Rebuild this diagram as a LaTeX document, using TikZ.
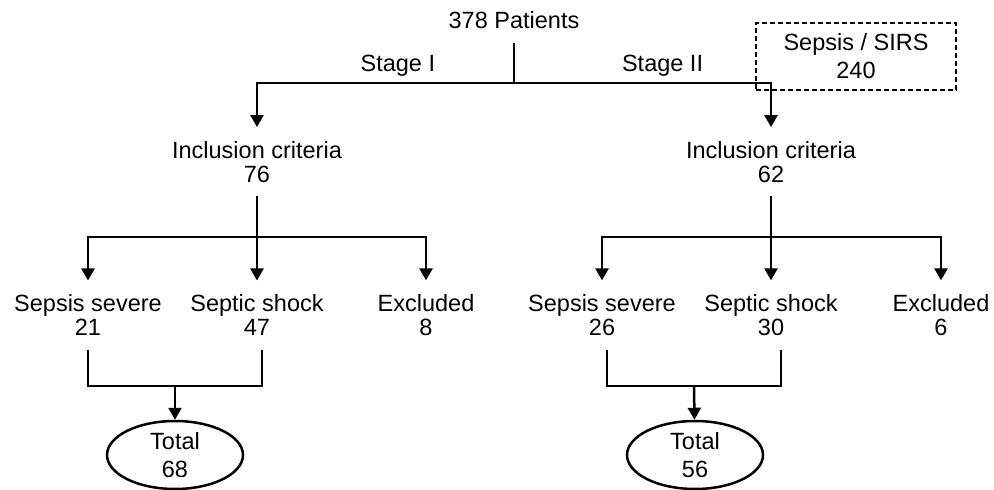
\documentclass[tikz,border=0pt]{standalone}
\usepackage{fontspec}
\setmainfont{Liberation Sans}
\usetikzlibrary{positioning, arrows.meta, shapes.geometric}
\tikzset{
>={Triangle[width=13pt,length=12pt]}, % filled arrow heads
node distance=169pt, % distance between the sub groups
txt/.style={align=center, inner sep=0pt, outer ysep=14pt}, % text nodes, lines stop short of them
total/.style={draw, ellipse, align=center, inner sep=0pt, minimum width=136pt, minimum height=68pt}, % the two totals
note/.style={draw, dash pattern=on 5pt off 3pt, line width=2.2pt, align=center, minimum width=200pt, minimum height=67pt},
}
\begin{document}
\begin{tikzpicture}[x=1pt, y=-1pt, line width=2.5pt, font=\fontsize{23.5}{24}\selectfont]
  \useasboundingbox (0,0) rectangle (994,490);

  % Nodes
  \node[txt] (pat) at (514,20) {378 Patients};
  \coordinate (split) at (514,83);
  \node[txt] (inc1) at (257,161.7) {Inclusion criteria\\76};
  \node[txt] (inc2) at (771,161.7) {Inclusion criteria\\62};

  \coordinate (b1) at (257,237);
  \coordinate (b2) at (771,237);
  \node[txt] (ss1) at (88,315) {Sepsis severe\\21};
  \node[txt, right of=ss1] (sh1) {Septic shock\\47};
  \node[txt, right of=sh1] (ex1) {Excluded\\8};
  \node[txt] (ss2) at (602,315) {Sepsis severe\\26};
  \node[txt, right of=ss2] (sh2) {Septic shock\\30};
  \node[txt, right of=sh2, node distance=170pt] (ex2) {Excluded\\6};

  \coordinate (j1) at (175,386);
  \coordinate (j2) at (694,386);
  \node[total] (tot1) at (175,455) {Total\\[3.5pt]68};
  \node[total] (tot2) at (695,455) {Total\\[3.5pt]56};

  % Connectors
  \draw (pat) -- (split);
  \draw[->] (split) -| node[pos=.226, above=5pt, inner sep=0pt] (st1) {Stage I} (inc1);
  \draw[->] (split) -| node[pos=.289, above=5pt, inner sep=0pt] (st2) {Stage II} (inc2);

  \draw (inc1) -- (b1);
  \draw[->] (b1) -| (ss1);
  \draw[->] (b1) -- (sh1);
  \draw[->] (b1) -| (ex1);
  \draw (inc2) -- (b2);
  \draw[->] (b2) -| (ss2);
  \draw[->] (b2) -- (sh2);
  \draw[->] (b2) -| (ex2);

  \draw (ss1) |- (j1);
  \draw ([xshift=5pt]sh1.south) |- (j1);
  \draw[->] (j1) -- (tot1);
  \draw ([xshift=5pt]ss2.south) |- (j2);
  \draw ([xshift=10pt]sh2.south) |- (j2);
  \draw[->] (j2) -- (tot2);

  % Side note
  \node[note] (sirs) at (856,56.5) {Sepsis / SIRS\\[4pt]240};
\end{tikzpicture}
\end{document}
